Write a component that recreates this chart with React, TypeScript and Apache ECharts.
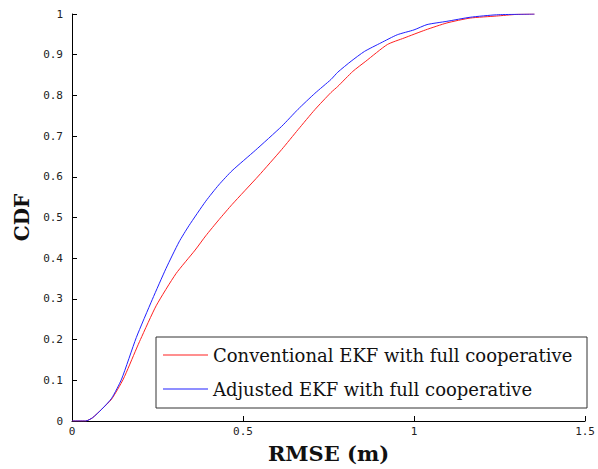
import React, { useEffect, useRef } from "react";
import * as echarts from "echarts";

const seriesNames = [
  "Conventional EKF with full cooperative",
  "Adjusted EKF with full cooperative",
];

const conventionalRmse = [0, 0.04, 0.06, 0.087, 0.116, 0.15, 0.188, 0.2, 0.246, 0.304, 0.36, 0.391, 0.43, 0.468, 0.545, 0.613, 0.661, 0.71, 0.757, 0.777, 0.821, 0.859, 0.922, 0.971, 1.034, 1.096, 1.164, 1.241, 1.299, 1.352];
const conventionalCdf = [0, 0, 0.008, 0.029, 0.054, 0.103, 0.177, 0.2, 0.283, 0.362, 0.42, 0.455, 0.495, 0.532, 0.602, 0.667, 0.716, 0.765, 0.807, 0.822, 0.859, 0.884, 0.925, 0.941, 0.961, 0.978, 0.99, 0.995, 0.999, 1];

const adjustedRmse = [0, 0.04, 0.06, 0.087, 0.116, 0.145, 0.188, 0.235, 0.275, 0.313, 0.342, 0.391, 0.429, 0.468, 0.536, 0.613, 0.661, 0.71, 0.757, 0.777, 0.816, 0.855, 0.903, 0.951, 1.0, 1.038, 1.096, 1.164, 1.241, 1.352];
const adjustedCdf = [0, 0, 0.008, 0.029, 0.056, 0.103, 0.205, 0.299, 0.375, 0.44, 0.48, 0.54, 0.58, 0.615, 0.665, 0.724, 0.766, 0.805, 0.839, 0.857, 0.884, 0.908, 0.929, 0.949, 0.961, 0.974, 0.982, 0.992, 0.998, 1];

const xTicks = { min: 0, max: 1.5, interval: 0.5 };
const yTicks = { min: 0, max: 1, interval: 0.1 };

const zip = (xs: number[], ys: number[]) => xs.map((x, i) => [x, ys[i]]);

export default function App() {
  const ref = useRef<HTMLDivElement>(null);
  useEffect(() => {
    if (!ref.current) return;
    const chart = echarts.init(ref.current, undefined, { renderer: "svg" });
    const tickFont = { fontFamily: "DejaVu Sans Mono", fontSize: 11, color: "#222" };
    chart.setOption({
      animation: false,
      backgroundColor: "#fff",
      grid: { left: 72, right: 9, top: 14, bottom: 47, containLabel: false },
      xAxis: {
        type: "value",
        min: xTicks.min,
        max: xTicks.max,
        interval: xTicks.interval,
        name: "RMSE (m)",
        nameLocation: "middle",
        nameGap: 22,
        nameTextStyle: { fontFamily: "DejaVu Serif", fontWeight: "bold", fontSize: 21, color: "#111" },
        axisLine: { lineStyle: { color: "#000", width: 1 } },
        axisTick: { inside: true, length: 5, lineStyle: { color: "#000" } },
        axisLabel: { ...tickFont, margin: 5 },
        splitLine: { show: false },
      },
      yAxis: {
        type: "value",
        min: yTicks.min,
        max: yTicks.max,
        interval: yTicks.interval,
        name: "CDF",
        nameLocation: "middle",
        nameGap: 34,
        nameRotate: 90,
        nameTextStyle: { fontFamily: "DejaVu Serif", fontWeight: "bold", fontSize: 20, color: "#111" },
        axisLine: { show: true, lineStyle: { color: "#000", width: 1 } },
        axisTick: { show: true, inside: true, length: 5, lineStyle: { color: "#000" } },
        axisLabel: { ...tickFont, margin: 9 },
        splitLine: { show: false },
      },
      legend: {
        orient: "vertical",
        left: 163,
        top: 345,
        padding: 0,
        icon: "rect",
        itemWidth: 45,
        itemHeight: 1,
        itemGap: 14,
        textStyle: { fontFamily: "DejaVu Serif", fontSize: 18, color: "#111", lineHeight: 20, height: 20 },
        data: seriesNames,
      },
      graphic: [
        {
          type: "rect",
          shape: { x: 156, y: 337, width: 431, height: 71 },
          style: { fill: "none", stroke: "#333", lineWidth: 1 },
          z: 1,
        },
      ],
      series: [
        {
          name: seriesNames[0],
          type: "line",
          data: zip(conventionalRmse, conventionalCdf),
          symbol: "none",
          showSymbol: false,
          smooth: 0.2,
          lineStyle: { color: "#ff2020", width: 1 },
          itemStyle: { color: "#ff2020" },
        },
        {
          name: seriesNames[1],
          type: "line",
          data: zip(adjustedRmse, adjustedCdf),
          symbol: "none",
          showSymbol: false,
          smooth: 0.2,
          lineStyle: { color: "#2020ff", width: 1 },
          itemStyle: { color: "#2020ff" },
        },
      ],
    });
    return () => chart.dispose();
  }, []);
  return (
    <div
      ref={ref}
      style={{ position: "fixed", left: 0, top: 0, width: 598, height: 469 }}
    />
  );
}
